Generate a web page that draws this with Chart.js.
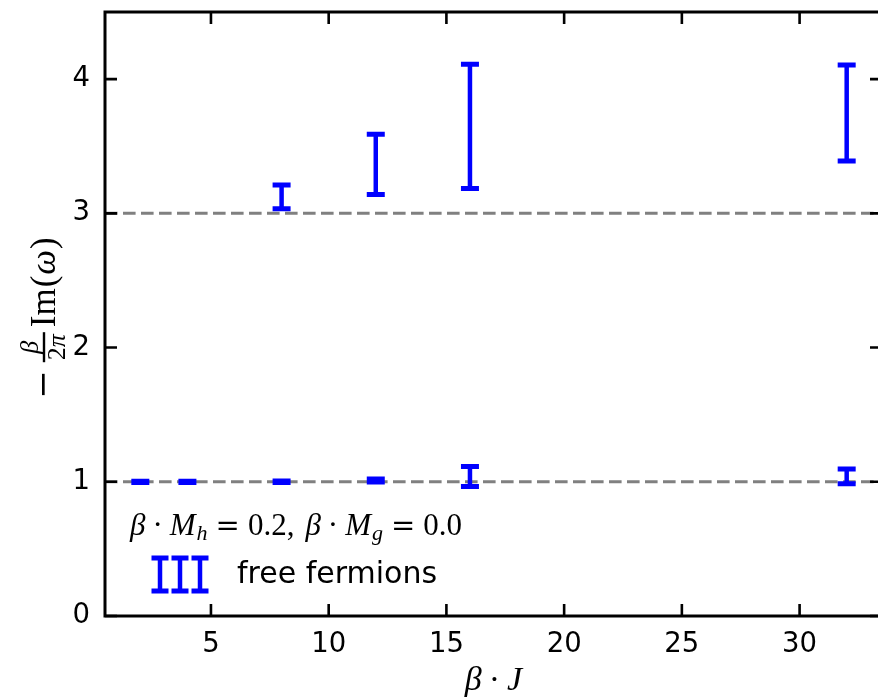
<!DOCTYPE html>
<html>
<head>
<meta charset="utf-8">
<script src="https://cdn.jsdelivr.net/npm/chart.js@4.4.0/dist/chart.umd.min.js"></script>
<style>
  html, body { margin: 0; padding: 0; background: #fff; overflow: hidden; }
  #wrap { width: 884px; height: 698px; }
</style>
</head>
<body>
<div id="wrap"><canvas id="spec" width="884" height="698"></canvas></div>
<script>
// beta*J values of the runs
const betaJ = [2, 4, 8, 12, 16, 32];
// lowest mode: bottom / top of the error bar
const lowBottom = [0.994, 0.995, 0.995, 0.998, 0.965, 0.985];
const lowTop    = [1.004, 1.004, 1.005, 1.020, 1.114, 1.095];
// second mode, only resolved from beta*J = 8 on
const betaJHigh  = [8, 12, 16, 32];
const highBottom = [3.035, 3.14, 3.185, 3.39];
const highTop    = [3.211, 3.59, 4.11, 4.106];
// free fermion levels (dashed lines)
const freeLevels = [1, 3];
// axes
const xTicks = [5, 10, 15, 20, 25, 30];
const yTicks = [0, 1, 2, 3, 4];
const xRange = [0.5, 33.5];
const yRange = [0, 4.5];

const SANS = '"DejaVu Sans", sans-serif';
const SERIF = '"Liberation Serif", "DejaVu Serif", serif';
const DSERIF = '"DejaVu Serif", serif';
const BLUE = '#0000ff';

function drawRuns(ctx, x, y, runs) {
  runs.forEach(r => {
    ctx.font = r.font;
    ctx.fillText(r.t, x, y + (r.dy || 0));
    x += ctx.measureText(r.t).width + (r.gap || 0);
  });
  return x;
}
function runsWidth(ctx, runs) {
  let w = 0;
  runs.forEach(r => { ctx.font = r.font; w += ctx.measureText(r.t).width + (r.gap || 0); });
  return w;
}

// dashed free fermion lines, under the data
const levelLines = {
  id: 'levelLines',
  beforeDatasetsDraw(chart) {
    const { ctx, chartArea: a, scales: { y } } = chart;
    ctx.save();
    ctx.strokeStyle = '#808080';
    ctx.lineWidth = 3;
    ctx.setLineDash([12.6, 5.4]);
    freeLevels.forEach(v => {
      const py = y.getPixelForValue(v);
      ctx.beginPath();
      ctx.moveTo(a.left, py);
      ctx.lineTo(a.right, py);
      ctx.stroke();
    });
    ctx.restore();
  }
};

function errorBar(ctx, px, pLo, pHi, half) {
  ctx.lineWidth = 4.5;
  ctx.beginPath();
  ctx.moveTo(px, pLo);
  ctx.lineTo(px, pHi);
  ctx.stroke();
  ctx.lineWidth = 5;
  ctx.beginPath();
  ctx.moveTo(px - half, pLo); ctx.lineTo(px + half, pLo);
  ctx.moveTo(px - half, pHi); ctx.lineTo(px + half, pHi);
  ctx.stroke();
}

const errorBars = {
  id: 'errorBars',
  afterDatasetsDraw(chart) {
    const { ctx, scales: { x, y } } = chart;
    ctx.save();
    ctx.strokeStyle = BLUE;
    ctx.lineCap = 'butt';
    betaJ.forEach((b, i) => {
      errorBar(ctx, x.getPixelForValue(b), y.getPixelForValue(lowBottom[i]), y.getPixelForValue(lowTop[i]), 9);
    });
    betaJHigh.forEach((b, i) => {
      errorBar(ctx, x.getPixelForValue(b), y.getPixelForValue(highBottom[i]), y.getPixelForValue(highTop[i]), 9);
    });
    ctx.restore();
  }
};

// spines, inward ticks on all sides, axis labels and legend
const frame = {
  id: 'frame',
  afterDraw(chart) {
    const { ctx, chartArea: a, scales: { x, y } } = chart;
    ctx.save();
    ctx.strokeStyle = '#000';
    ctx.lineWidth = 3;
    ctx.strokeRect(a.left, a.top, a.right - a.left, a.bottom - a.top);
    const tl = 12;
    ctx.beginPath();
    xTicks.forEach(v => {
      const px = x.getPixelForValue(v);
      ctx.moveTo(px, a.bottom); ctx.lineTo(px, a.bottom - tl);
      ctx.moveTo(px, a.top); ctx.lineTo(px, a.top + tl);
    });
    yTicks.forEach(v => {
      const py = y.getPixelForValue(v);
      ctx.moveTo(a.left, py); ctx.lineTo(a.left + tl, py);
      ctx.moveTo(a.right, py); ctx.lineTo(a.right - tl, py);
    });
    ctx.lineWidth = 2.6;
    ctx.stroke();

    ctx.fillStyle = '#000';
    ctx.textBaseline = 'alphabetic';
    ctx.textAlign = 'left';
    const it = s => `italic ${s}px ${SERIF}`;
    const up = s => `${s}px ${SERIF}`;
    const op = s => `${s}px ${DSERIF}`;

    // x label
    const xl = [
      { t: 'β', font: it(34), gap: 7 },
      { t: '·', font: up(34), gap: 7 },
      { t: 'J', font: it(34) }
    ];
    const cx = (a.left + a.right) / 2;
    drawRuns(ctx, cx - runsWidth(ctx, xl) / 2, 690, xl);

    // y label, rotated: -(beta / 2pi) Im(omega)
    ctx.save();
    ctx.translate(55, 318);
    ctx.rotate(-Math.PI / 2);
    const minus = { t: '\u2212', font: op(34), gap: 8 };
    ctx.font = it(26);
    const numW = ctx.measureText('β').width;
    ctx.font = up(26);
    const w2 = ctx.measureText('2').width;
    ctx.font = it(26);
    const denW = w2 + ctx.measureText('π').width;
    const fracW = Math.max(numW, denW) + 4;
    const rest = [
      { t: 'Im', font: up(35), gap: 1 },
      { t: '(', font: up(35), gap: 1 },
      { t: 'ω', font: it(35), gap: 1 },
      { t: ')', font: up(35) }
    ];
    const total = runsWidth(ctx, [minus]) + fracW + 5 + runsWidth(ctx, rest);
    let ux = -total / 2;
    ux = drawRuns(ctx, ux, -1, [minus]);
    const bar = -11;
    ctx.fillRect(ux, bar - 1.2, fracW, 2.4);
    ctx.font = it(26);
    ctx.fillText('β', ux + (fracW - numW) / 2, bar - 6);
    const dx = ux + (fracW - denW) / 2;
    ctx.font = up(26);
    ctx.fillText('2', dx, bar + 21);
    ctx.font = it(26);
    ctx.fillText('π', dx + w2, bar + 21);
    ux += fracW + 5;
    drawRuns(ctx, ux, 0, rest);
    ctx.restore();

    // legend title
    const title = [
      { t: 'β', font: it(31), gap: 7 },
      { t: '·', font: up(31), gap: 7 },
      { t: 'M', font: it(31), gap: 1 },
      { t: 'h', font: it(22), dy: 5, gap: 8 },
      { t: '=', font: op(29), gap: 8 },
      { t: '0.2,', font: up(31), gap: 11 },
      { t: 'β', font: it(31), gap: 7 },
      { t: '·', font: up(31), gap: 7 },
      { t: 'M', font: it(31), gap: 1 },
      { t: 'g', font: it(22), dy: 5, gap: 8 },
      { t: '=', font: op(29), gap: 8 },
      { t: '0.0', font: up(31) }
    ];
    const tw = runsWidth(ctx, title);
    drawRuns(ctx, 296 - tw / 2, 535, title);

    // legend handle: three error bars
    ctx.strokeStyle = BLUE;
    [160, 180, 200].forEach(hx => errorBar(ctx, hx, 591, 558, 8.5));
    ctx.fillStyle = '#000';
    ctx.font = `30px ${SANS}`;
    ctx.fillText('free fermions', 237, 583);
    ctx.restore();
  }
};

new Chart(document.getElementById('spec'), {
  type: 'scatter',
  data: {
    datasets: [
      { data: betaJ.map((b, i) => ({ x: b, y: (lowBottom[i] + lowTop[i]) / 2 })), pointRadius: 0 },
      { data: betaJHigh.map((b, i) => ({ x: b, y: (highBottom[i] + highTop[i]) / 2 })), pointRadius: 0 }
    ]
  },
  options: {
    responsive: false,
    animation: false,
    layout: { padding: { left: 0, top: 12, right: 2, bottom: 0 } },
    plugins: { legend: { display: false }, tooltip: { enabled: false } },
    scales: {
      x: {
        type: 'linear', min: xRange[0], max: xRange[1],
        grid: { display: false, drawTicks: false }, border: { display: false },
        afterBuildTicks: s => { s.ticks = xTicks.map(v => ({ value: v })); },
        afterFit: s => { s.height = 82; s.paddingLeft = 0; s.paddingRight = 0; },
        ticks: { font: { family: SANS, size: 27.5 }, color: '#000', padding: 12, maxRotation: 0, autoSkip: false }
      },
      y: {
        type: 'linear', min: yRange[0], max: yRange[1],
        grid: { display: false, drawTicks: false }, border: { display: false },
        afterBuildTicks: s => { s.ticks = yTicks.map(v => ({ value: v })); },
        afterFit: s => { s.width = 105; s.paddingTop = 0; s.paddingBottom = 0; },
        ticks: { font: { family: SANS, size: 27.5 }, color: '#000', padding: 15, autoSkip: false }
      }
    }
  },
  plugins: [levelLines, errorBars, frame]
});
</script>
</body>
</html>
